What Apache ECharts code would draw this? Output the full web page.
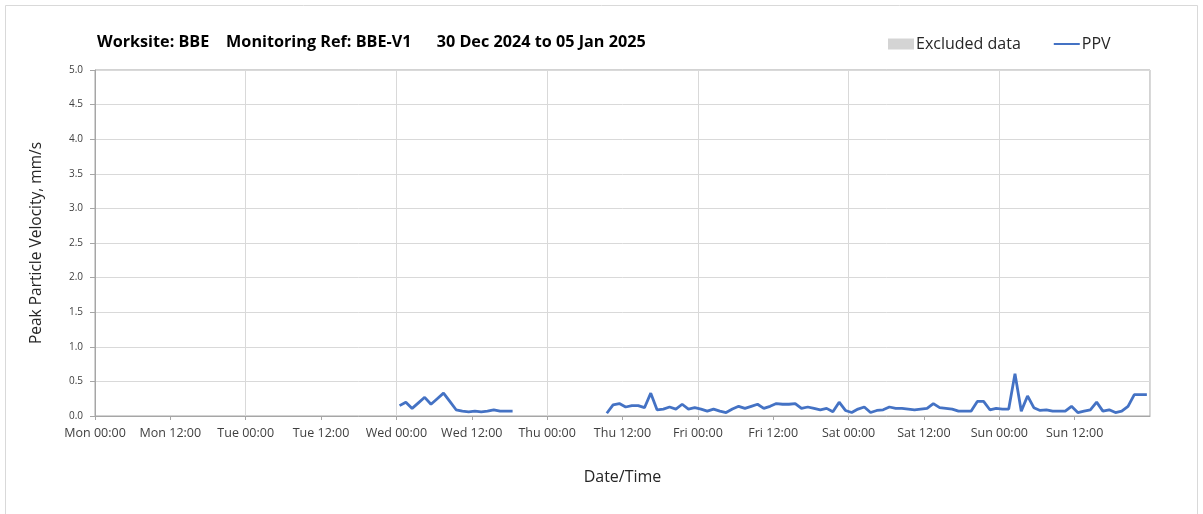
<!DOCTYPE html>
<html>
<head>
<meta charset="utf-8">
<script src="https://cdn.jsdelivr.net/npm/echarts@6/dist/echarts.min.js"></script>
<style>
html,body{margin:0;padding:0;background:#fff;}
#chart{width:1203px;height:514px;}
</style>
</head>
<body>
<div id="chart"></div>
<script>
// Hours are counted from Mon 30 Dec 2024 00:00
const dayNames = ['Mon','Tue','Wed','Thu','Fri','Sat','Sun','Mon'];
const yTicks = [0,0.5,1,1.5,2,2.5,3,3.5,4,4.5,5];

// Segment 1: Wed 00:30 onwards, hourly PPV (mm/s)
const wedStartHour = 48.5;
const wedValues = [0.15,0.20,0.11,0.19,0.27,0.17,0.25,0.33,0.21,0.09,0.07,0.06,0.07,0.06,0.07,0.09,0.07,0.07,0.07];

// Segment 2: Thu 09:30 onwards, hourly PPV (mm/s)
const thuStartHour = 81.5;
const thuValues = [0.04,0.16,0.18,0.13,0.15,0.15,0.12,0.33,0.09,0.10,0.13,0.10,0.17,0.10,0.12];
const friValues = [0.10,0.07,0.10,0.07,0.05,0.10,0.14,0.11,0.14,0.17,0.11,0.14,0.18,0.17,0.17,0.18,0.11,0.13,0.11,0.09,0.11,0.06,0.20,0.08];
const satValues = [0.05,0.10,0.13,0.05,0.08,0.09,0.13,0.11,0.11,0.10,0.09,0.10,0.11,0.18,0.12,0.11,0.10,0.07,0.07,0.07,0.21,0.21,0.09,0.11];
const sunValues = [0.10,0.10,0.61,0.07,0.29,0.12,0.08,0.09,0.07,0.07,0.07,0.14,0.05,0.07,0.09,0.20,0.07,0.09,0.05,0.07,0.14,0.31,0.31,0.31];

const data = [];
wedValues.forEach((v,i)=>data.push([wedStartHour+i, v]));
data.push([wedStartHour+wedValues.length, null]);
thuValues.concat(friValues, satValues, sunValues).forEach((v,i)=>data.push([thuStartHour+i, v]));

function pad(n){return (n<10?'0':'')+n;}
const FONT = '"Open Sans", "Noto Sans", sans-serif';

const chart = echarts.init(document.getElementById('chart'));
chart.setOption({
  animation:false,
  backgroundColor:'#fff',
  graphic:[{type:'rect', shape:{x:5.5,y:5.5,width:1192,height:530}, style:{fill:'none',stroke:'#d9d9d9',lineWidth:1}, silent:true}],
  title:{
    text:'Worksite: BBE    Monitoring Ref: BBE-V1      30 Dec 2024 to 05 Jan 2025',
    left:92, top:29,
    textStyle:{fontFamily:FONT,fontSize:16.2,fontWeight:'bold',color:'#000'}
  },
  legend:{
    left:883, top:31,
    itemWidth:26, itemHeight:11, itemGap:32,
    textStyle:{fontFamily:FONT,fontSize:16,color:'#262626',padding:[0,0,0,-3]},
    data:[{name:'Excluded data',icon:'rect'},{name:'PPV',itemStyle:{color:'rgba(0,0,0,0)',borderWidth:0,opacity:0}}]
  },
  grid:{left:95,right:53,top:70,bottom:98,show:true,borderColor:'#a6a6a6',borderWidth:1},
  xAxis:{
    type:'value', min:0, max:168, interval:12,
    name:'Date/Time', nameLocation:'middle', nameGap:53,
    nameTextStyle:{fontFamily:FONT,fontSize:16,color:'#262626'},
    axisLine:{lineStyle:{color:'#a6a6a6'}},
    axisTick:{show:true,length:4,lineStyle:{color:'#a6a6a6'}},
    axisLabel:{
      fontFamily:FONT,fontSize:12.5,color:'#404040',margin:11,showMaxLabel:false,
      formatter:function(h){const d=Math.floor(h/24);return dayNames[d]+' '+pad(h%24)+':00';}
    },
    splitLine:{show:true,lineStyle:{color:['#d9d9d9','rgba(0,0,0,0)'],width:1}}
  },
  yAxis:{
    type:'value', min:yTicks[0], max:yTicks[yTicks.length-1], interval:0.5,
    name:'Peak Particle Velocity, mm/s', nameLocation:'middle', nameGap:50,
    nameTextStyle:{fontFamily:FONT,fontSize:15.5,color:'#262626'},
    axisLine:{show:true,lineStyle:{color:'#a6a6a6'}},
    axisTick:{show:true,length:5,lineStyle:{color:'#a6a6a6'}},
    axisLabel:{fontFamily:FONT,fontSize:10,color:'#404040',margin:12,formatter:v=>v.toFixed(1)},
    splitLine:{show:true,lineStyle:{color:'#d9d9d9'}}
  },
  series:[
    {name:'Excluded data',type:'bar',data:[],itemStyle:{color:'#d4d4d4'}},
    {name:'PPV',type:'line',data:data,symbol:'none',connectNulls:false,
     lineStyle:{color:'#4472c4',width:2.8},itemStyle:{color:'#4472c4'}}
  ]
});
</script>
</body>
</html>
